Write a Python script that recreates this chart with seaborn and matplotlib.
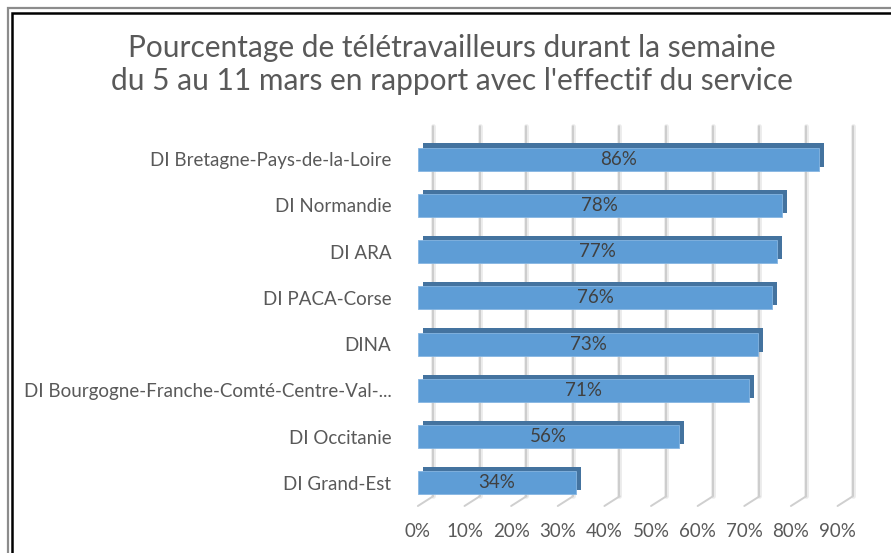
import pandas as pd
import matplotlib
matplotlib.use('Agg')
import matplotlib.pyplot as plt
import matplotlib.patheffects as pe
import matplotlib.transforms as mtransforms
from matplotlib.patches import Rectangle
import seaborn as sns

#---------------------------------------------------------
services=['DI Bretagne-Pays-de-la-Loire', 'DI Normandie', 'DI ARA', 'DI PACA-Corse',
	'DINA', 'DI Bourgogne-Franche-Comté-Centre-Val-...', 'DI Occitanie', 'DI Grand-Est']
pct=[86, 78, 77, 76, 73, 71, 56, 34]
xticks=[0, 10, 20, 30, 40, 50, 60, 70, 80, 90]
title='Pourcentage de télétravailleurs durant la semaine\ndu 5 au 11 mars en rapport avec l\'effectif du service'

c_front='#5e9dd6'
c_side='#44739f'
c_txt='#595959'

#--------------------------------------------------------
df=pd.DataFrame({'service': services, 'pct': pct})

sns.set_style('white')
plt.rcParams['font.family']=['Lato', 'DejaVu Sans']

fig=plt.figure(figsize=(8.91, 5.53), dpi=100)
ax=fig.add_axes([0.469, 0.085, 0.471, 0.669])

#double frame around the chart
fig.patches.append(Rectangle((8/891, -0.1), 1.2, 1-8/553+0.1, transform=fig.transFigure,
	fill=False, edgecolor='#8c8c8c', linewidth=1.6))
fig.patches.append(Rectangle((12/891, -0.1), 1.2, 1-13/553+0.1, transform=fig.transFigure,
	fill=False, edgecolor='black', linewidth=1.8))

#back wall gridlines (shifted to mimic the 3d depth) + floor marks
wall=mtransforms.ScaledTranslation(15/100, 10/100, fig.dpi_scale_trans)
for t in xticks:
	ln=ax.axvline(t, color='#c4c4c4', linewidth=1.1, zorder=0)
	ln.set_transform(ln.get_transform()+wall)
	ln.set_path_effects([pe.Stroke(linewidth=3.4, foreground='#ebebeb'), pe.Normal()])
	ln.set_clip_on(False)
	ax.annotate('', xy=(t, 0), xycoords=ax.get_xaxis_transform(), xytext=(11, 7),
		textcoords='offset points', annotation_clip=False,
		arrowprops=dict(arrowstyle='-', color='#cfcfcf', linewidth=1.4, shrinkA=0, shrinkB=0))

#bars
sns.barplot(data=df, x='pct', y='service', orient='h', color=c_front, width=0.5,
	saturation=1, ax=ax, zorder=3)
for p in ax.patches:
	p.set_edgecolor('#86b6e2')
	p.set_linewidth(0.6)
	p.set_path_effects([pe.SimplePatchShadow(offset=(3.6, 3.0), shadow_rgbFace=c_side, alpha=1), pe.Normal()])

#labels in bars
for i, v in enumerate(pct):
	ax.text(v/2, i, f'{v}%', ha='center', va='center', fontsize=13.5, color='#404040', zorder=5)

#adjust
ax.set_xlim(0, 90)
ax.set_xticks(xticks)
ax.set_xticklabels([f'{t}%' for t in xticks], fontsize=13.5, color=c_txt)
ax.tick_params(axis='x', length=0, pad=12)
ax.tick_params(axis='y', length=0, pad=19, labelsize=13.5, labelcolor=c_txt)
ax.set_xlabel('')
ax.set_ylabel('')
ax.grid(False)
for s in ax.spines.values():
	s.set_visible(False)
ax.patch.set_alpha(0)

fig.text(0.507, 0.883, title, ha='center', va='center', fontsize=21.5, color=c_txt, linespacing=1.22)

#save
plt.savefig('out.png', dpi=100)
plt.close()
